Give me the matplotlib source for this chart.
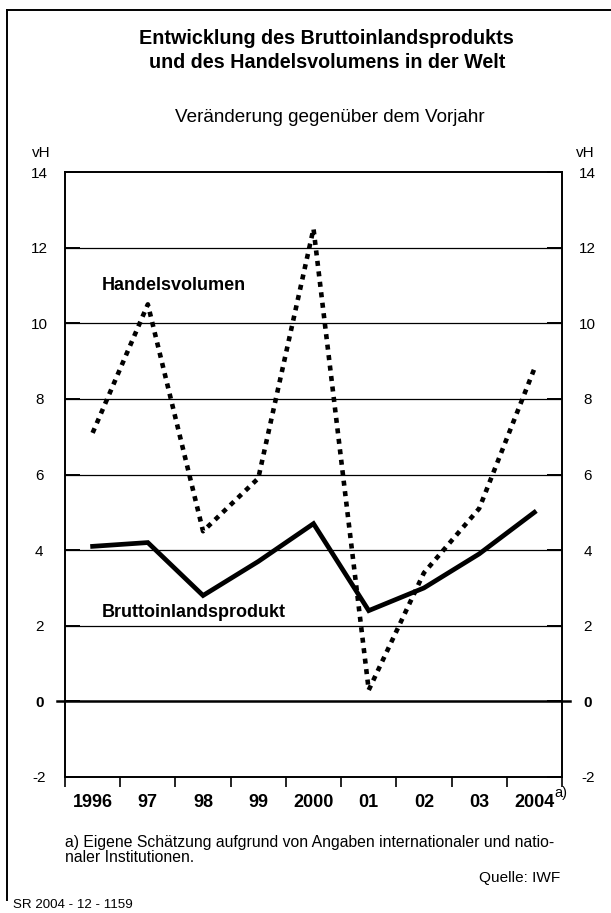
import matplotlib
matplotlib.use("Agg")
import matplotlib.pyplot as plt
from matplotlib.lines import Line2D

plt.rcParams['font.family'] = ['Liberation Sans', 'DejaVu Sans']

years = ["1996", "97", "98", "99", "2000", "01", "02", "03", "2004"]
bip = [4.1, 4.2, 2.8, 3.7, 4.7, 2.4, 3.0, 3.9, 5.0]
handel = [7.1, 10.5, 4.5, 5.9, 12.5, 0.3, 3.4, 5.1, 8.8]
yticks = [-2, 0, 2, 4, 6, 8, 10, 12, 14]

fig = plt.figure(figsize=(6.11, 9.13), dpi=100)
ax = fig.add_axes([65/611, 1-777/913, 497/611, 605/913])

x = list(range(len(years)))
ax.set_xlim(-0.5, len(years) - 0.5)
ax.set_ylim(-2, 14)

for y in yticks:
    if y in (-2, 14):
        continue
    if y == 0:
        ax.add_line(Line2D([-0.65, len(years) - 0.35], [0, 0], color='black', lw=1.8,
                           clip_on=False, zorder=2))
    else:
        ax.axhline(y, color='black', lw=0.9, zorder=1)

ax.plot(x, handel, color='black', lw=3.3, linestyle=(0, (1.1, 1.2)),
        dash_capstyle='butt', zorder=3)
ax.plot(x, bip, color='black', lw=3.4, solid_joinstyle='miter', zorder=4)

for s in ax.spines.values():
    s.set_linewidth(1.4)

# y ticks on both sides, inward
ax.set_yticks(yticks)
ax.set_yticklabels([str(v) for v in yticks], fontsize=11)
ax.tick_params(axis='y', which='major', direction='in', length=11, width=1.4,
               left=True, right=True, labelleft=True, labelright=True, pad=18.5)
for t in ax.yaxis.get_major_ticks():
    t.label1.set_horizontalalignment('center')
    t.label2.set_horizontalalignment('center')
    if t.label1.get_text() == "0":
        t.label1.set_fontweight('bold')
        t.label2.set_fontweight('bold')

# x ticks at interval boundaries, labels at centers
ax.set_xticks([i - 0.5 for i in range(len(years) + 1)], minor=True)
ax.set_xticks(x)
ax.set_xticklabels(years, fontsize=13, fontweight='bold')
ax.tick_params(axis='x', which='major', length=0, pad=12)
ax.tick_params(axis='x', which='minor', direction='out', length=7, width=1.2)

ax.text((561 - 65) / 497, (777 - 793) / 605, "a)", transform=ax.transAxes,
        fontsize=10.5, ha='center', va='center')

ax.text((101.5 - 65) / 497, 11.0, "Handelsvolumen", fontsize=13, fontweight='bold',
        ha='left', va='center', transform=ax.get_yaxis_transform())
ax.text((101.5 - 65) / 497, 2.35, "Bruttoinlandsprodukt", fontsize=13, fontweight='bold',
        ha='left', va='center', transform=ax.get_yaxis_transform())

fig.text(326/611, 1-38/913, "Entwicklung des Bruttoinlandsprodukts", fontsize=14.2,
         fontweight='bold', ha='center', va='center')
fig.text(327/611, 1-62/913, "und des Handelsvolumens in der Welt", fontsize=14.2,
         fontweight='bold', ha='center', va='center')
fig.text(330/611, 1-118/913, "Veränderung gegenüber dem Vorjahr", fontsize=13.6,
         ha='center', va='center')
fig.text(32/611, 1-153/913, "vH", fontsize=11, ha='left', va='center')
fig.text(576/611, 1-153/913, "vH", fontsize=11, ha='left', va='center')

fig.text(65/611, 1-842/913, "a) Eigene Schätzung aufgrund von Angaben internationaler und natio-",
         fontsize=11.3, ha='left', va='center')
fig.text(65/611, 1-857/913, "naler Institutionen.", fontsize=11.3, ha='left', va='center')
fig.text(560/611, 1-878/913, "Quelle: IWF", fontsize=11.1, ha='right', va='center')
fig.text(13/611, 1-905/913, "SR 2004 - 12 - 1159", fontsize=9.6, ha='left', va='center')

# outer frame (top and left)
fig.add_artist(Line2D([7/611, 1.0], [1-10/913, 1-10/913], color='black', lw=1.4,
                      transform=fig.transFigure))
fig.add_artist(Line2D([7/611, 7/611], [1-900/913, 1-10/913], color='black', lw=1.4,
                      transform=fig.transFigure))

fig.savefig("out.png", dpi=100)
